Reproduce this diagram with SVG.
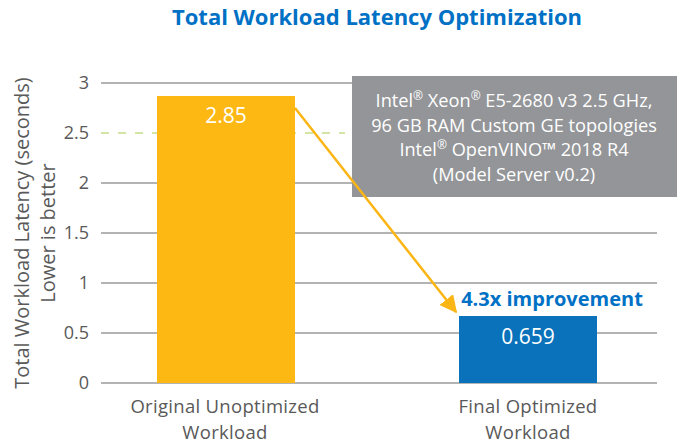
<svg xmlns="http://www.w3.org/2000/svg" width="683" height="446" viewBox="0 0 683 446">
  <style>
    text { font-family: "Open Sans", "Noto Sans", "Liberation Sans", sans-serif; }
    .title { font-size: 22px; font-weight: bold; fill: #0071c5; }
    .tick { font-size: 18px; fill: #595959; text-anchor: end; }
    .axis { font-size: 20px; fill: #595959; text-anchor: middle; }
    .cat { font-size: 18.5px; fill: #595959; text-anchor: middle; letter-spacing: 0.3px; }
    .grid { stroke: #9a9a9a; stroke-width: 1.5; }
    .val { font-size: 21px; fill: #ffffff; text-anchor: middle; }
    .note { font-size: 18.2px; fill: #ffffff; text-anchor: middle; }
    .sup { font-size: 12px; }
  </style>
  <defs>
    <marker id="arrowhead" viewBox="0 0 10 10" refX="9" refY="5" markerWidth="7" markerHeight="7" markerUnits="strokeWidth" orient="auto">
      <path d="M0,0 L10,5 L0,10 z" fill="#fbb514"/>
    </marker>
  </defs>

  <rect width="683" height="446" fill="#ffffff"/>

  <text class="title" x="377" y="25" text-anchor="middle">Total Workload Latency Optimization</text>

  <!-- gridlines -->
  <g id="grid">
    <line class="grid" x1="101" y1="83" x2="657" y2="83"/>
    <line class="grid" x1="101" y1="183" x2="657" y2="183"/>
    <line class="grid" x1="101" y1="233" x2="657" y2="233"/>
    <line class="grid" x1="101" y1="283" x2="657" y2="283"/>
    <line class="grid" x1="101" y1="333" x2="657" y2="333"/>
    <line class="grid" x1="101" y1="383" x2="657" y2="383"/>
    <line x1="101" y1="133" x2="345" y2="133" stroke="#a6cc4a" stroke-width="1.2" stroke-dasharray="8,9"/>
  </g>

  <!-- tick labels -->
  <g id="ticks">
    <text class="tick" x="89" y="89">3</text>
    <text class="tick" x="89" y="139">2.5</text>
    <text class="tick" x="89" y="189">2</text>
    <text class="tick" x="89" y="239">1.5</text>
    <text class="tick" x="89" y="289">1</text>
    <text class="tick" x="89" y="339">0.5</text>
    <text class="tick" x="89" y="389">0</text>
  </g>

  <!-- axis title -->
  <g id="y-axis-title" transform="translate(29,233) rotate(-90)">
    <text class="axis" x="0" y="0">Total Workload Latency (seconds)</text>
    <text class="axis" x="0" y="26">Lower is better</text>
  </g>

  <!-- bars -->
  <g id="bar-original">
    <rect x="157" y="96" width="138" height="287" fill="#fdb813"/>
    <text class="val" x="226" y="123">2.85</text>
  </g>
  <g id="bar-final">
    <rect x="459" y="316" width="138" height="67" fill="#0a71bb"/>
    <text class="val" x="528" y="344">0.659</text>
  </g>

  <!-- configuration note -->
  <g id="note">
    <rect x="352" y="76" width="325" height="121" fill="#939598"/>
    <text class="note" x="514" y="107">Intel<tspan class="sup" dy="-7">®</tspan><tspan dy="7"> Xeon</tspan><tspan class="sup" dy="-7">®</tspan><tspan dy="7"> E5-2680 v3 2.5 GHz,</tspan></text>
    <text class="note" x="514" y="131.5">96 GB RAM Custom GE topologies</text>
    <text class="note" x="514" y="156">Intel<tspan class="sup" dy="-7">®</tspan><tspan dy="7"> OpenVINO™ 2018 R4</tspan></text>
    <text class="note" x="514" y="180.5">(Model Server v0.2)</text>
  </g>

  <!-- improvement arrow -->
  <g id="connectors">
    <line x1="295" y1="108" x2="456" y2="312" stroke="#fbb514" stroke-width="2.5" marker-end="url(#arrowhead)"/>
  </g>

  <g id="improvement-label">
    <text x="552" y="306" text-anchor="middle" font-size="20" font-weight="bold" fill="#0071c5">4.3x improvement</text>
  </g>

  <!-- category labels -->
  <g id="categories">
    <text class="cat" x="225" y="413">Original Unoptimized</text>
    <text class="cat" x="225" y="438.5">Workload</text>
    <text class="cat" x="528" y="413">Final Optimized</text>
    <text class="cat" x="528" y="438.5">Workload</text>
  </g>
</svg>
